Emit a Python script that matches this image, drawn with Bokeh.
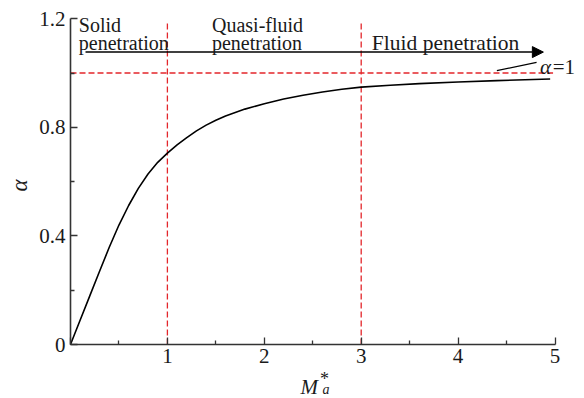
import math
from bokeh.plotting import figure
from bokeh.models import Range1d, FixedTicker, Label, Arrow, NormalHead
from bokeh.embed import file_html
from bokeh.resources import INLINE

# ---- data ----
mach = [0, 0.1, 0.2, 0.3, 0.4, 0.5, 0.6, 0.7, 0.8, 0.9, 1.0, 1.1, 1.2, 1.3, 1.4,
        1.5, 1.6, 1.8, 2.0, 2.2, 2.4, 2.6, 2.8, 3.0, 3.3, 3.6, 4.0, 4.4, 4.95]
alpha = [0, 0.09, 0.18, 0.27, 0.358, 0.44, 0.512, 0.575, 0.628, 0.671, 0.705, 0.735,
         0.762, 0.787, 0.808, 0.826, 0.842, 0.867, 0.887, 0.904, 0.918, 0.93, 0.94,
         0.948, 0.955, 0.961, 0.967, 0.972, 0.978]
region_bounds = [1, 3]
alpha_ref = 1.0
x_ticks = [0, 1, 2, 3, 4, 5]
x_minor = [0.5, 1.5, 2.5, 3.5, 4.5]
y_ticks = [0, 0.4, 0.8, 1.2]
y_minor = [0.2, 0.6, 1.0]
region_labels = [["Solid", "penetration"], ["Quasi-fluid", "penetration"], ["Fluid penetration"]]

FONT = "Liberation Serif"
RED = "#e3262b"
TXT = "#1a1a1a"

PXX = 96.9    # px per unit on x
PXY = 271.5   # px per unit on y
X0, Y0 = 70, 344  # pixel position of origin

p = figure(width=584, height=398, output_backend="svg", toolbar_location=None,
           x_range=Range1d(-X0 / PXX, (584 - X0) / PXX),
           y_range=Range1d(-(398 - Y0) / PXY, Y0 / PXY),
           min_border=0)
p.outline_line_color = None
p.xgrid.visible = False
p.ygrid.visible = False
p.background_fill_color = "white"
p.border_fill_color = "white"

# axes
for ax in (p.xaxis[0], p.yaxis[0]):
    ax.fixed_location = 0
    ax.axis_line_color = "#333333"
    ax.axis_line_width = 1.6
    ax.major_tick_line_color = "#333333"
    ax.minor_tick_line_color = "#333333"
    ax.major_tick_line_width = 1.3
    ax.minor_tick_line_width = 1.3
    ax.major_tick_in = 7
    ax.major_tick_out = 0
    ax.minor_tick_in = 4
    ax.minor_tick_out = 0
    ax.major_label_text_font = FONT
    ax.major_label_text_font_size = "21px"
    ax.major_label_text_color = TXT

p.xaxis.ticker = FixedTicker(ticks=x_ticks, minor_ticks=x_minor)
p.yaxis.ticker = FixedTicker(ticks=y_ticks, minor_ticks=y_minor)
p.xaxis.bounds = (0, 5)
p.yaxis.bounds = (0, 1.2)
p.xaxis.major_label_overrides = {0: ""}
p.yaxis.major_label_overrides = {0: "0", 0.4: "0.4", 0.8: "0.8", 1.2: "1.2"}
p.xaxis.major_label_standoff = 4
p.yaxis.major_label_standoff = 5

# reference lines
p.line([0, 4.98], [alpha_ref, alpha_ref], line_color=RED, line_width=1.3, line_dash="6 3")
for xb in region_bounds:
    p.line([xb, xb], [0, 1.19], line_color=RED, line_width=1.3, line_dash="6 3")

# curve
p.line(mach, alpha, line_color="black", line_width=1.6, line_join="round")

# arrow
p.add_layout(Arrow(end=NormalHead(size=11, fill_color="black", line_color="black"),
                   x_start=0.155, y_start=1.077, x_end=4.88, y_end=1.077,
                   line_color="black", line_width=1.5))

# leader line for alpha=1
p.line([4.40, 4.81], [1.009, 1.039], line_color="black", line_width=1.2)

def lab(x, y, t, size="20px", style="normal", align="left", baseline="alphabetic", angle=0):
    p.add_layout(Label(x=x, y=y, text=t, text_font=FONT, text_font_size=size,
                       text_font_style=style, text_color=TXT, angle=angle,
                       text_baseline=baseline, text_align=align))

# region labels
lab(0.086, 1.175, region_labels[0][0])
lab(0.086, 1.109, region_labels[0][1])
lab(1.46, 1.175, region_labels[1][0])
lab(1.46, 1.109, region_labels[1][1])
lab(3.11, 1.11, region_labels[2][0], size="21.5px")

# alpha = 1 label
lab(4.845, 1.021, "α", size="21px", style="italic")
lab(4.976, 1.021, "=1", size="21px")

# y axis label
lab(-0.53, 0.586, "α", size="23px", style="italic", align="center", baseline="middle",
    angle=math.pi / 2)

# x axis label M*_a
lab(2.374, -0.155, "M", size="21px", style="italic")
lab(2.575, -0.128, "*", size="18px")
lab(2.60, -0.166, "a", size="14px", style="italic")

open("out.html", "w").write(file_html(p, INLINE))
